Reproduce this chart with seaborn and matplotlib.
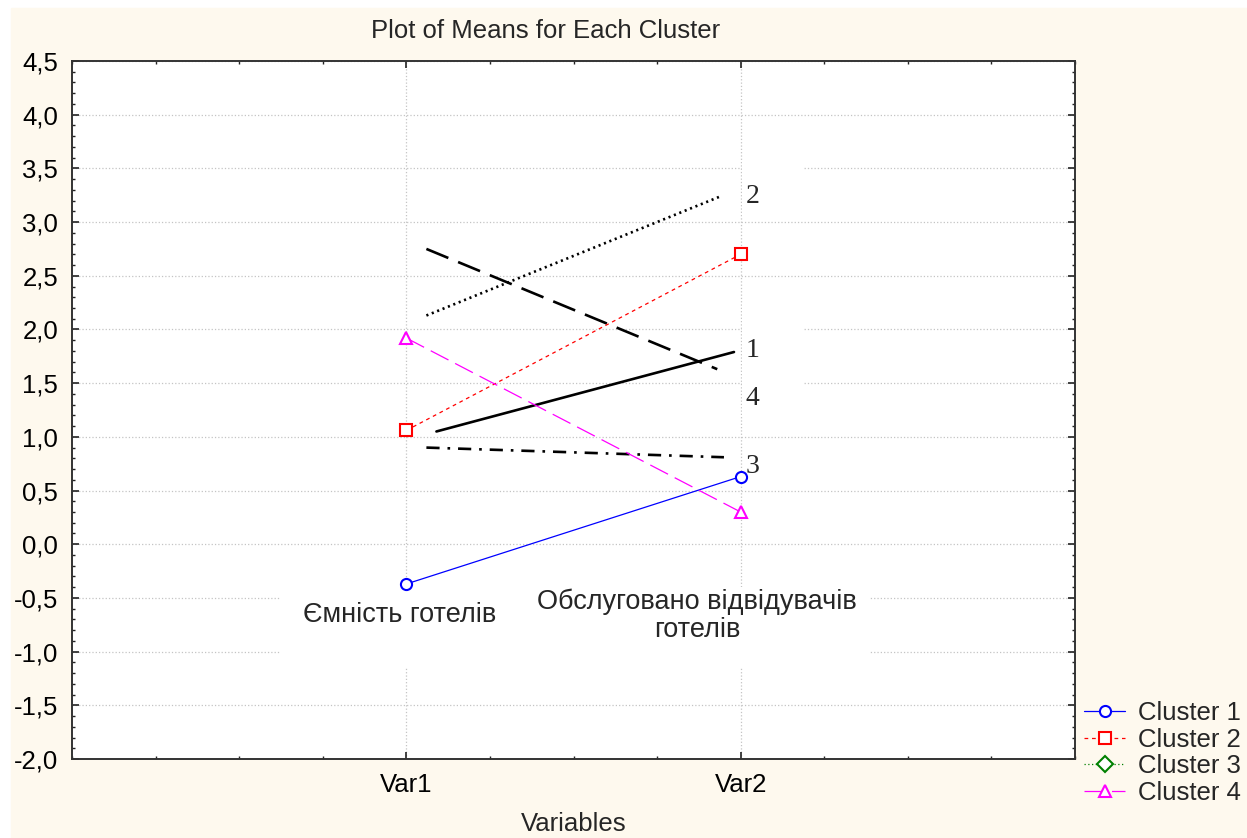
import numpy as np
import matplotlib
matplotlib.use("Agg")
import matplotlib.pyplot as plt
from matplotlib.patches import Rectangle
from matplotlib.lines import Line2D
from matplotlib.ticker import MultipleLocator, FixedLocator, FuncFormatter
import seaborn as sns

variables = ["Var1", "Var2"]
var_names = ["Ємність готелів", "Обслуговано відвідувачів\nготелів"]
clusters = ["Cluster 1", "Cluster 2", "Cluster 3", "Cluster 4"]
cluster1 = [-0.37, 0.63]
cluster2 = [1.06, 2.70]
cluster3 = [np.nan, np.nan]   # not visible on the chart
cluster4 = [1.92, 0.30]

# black lines drawn over the chart by hand, with their numbers
overlay_labels = ["1", "2", "3", "4"]
overlay_x = [[1.09, 1.98], [1.06, 1.94], [1.06, 1.95], [1.06, 1.93]]
overlay_y = [[1.05, 1.79], [2.13, 3.24], [0.90, 0.81], [2.75, 1.63]]
label_y = [1.80, 3.24, 0.72, 1.36]

sns.set_style("ticks")
plt.rcParams['font.family'] = ['Liberation Sans', 'DejaVu Sans']
plt.rcParams['font.size'] = 18.5

cream = '#fef9ee'
colors = ['#0000ff', '#ff0000', '#008000', '#ff00ff']
markers = ['o', 's', 'D', '^']
line_styles = ['-', (0, (3, 3)), (0, (1, 2)), (0, (16, 6))]
overlay_styles = ['-', (0, (0.8, 1.4)), (0, (5, 3, 1, 3)), (0, (9, 4))]

fig = plt.figure(figsize=(12.47, 8.38), dpi=100, facecolor='white')
fig.patches.append(Rectangle((11 / 1247, 0), 1 - 11 / 1247, 830 / 838,
                             transform=fig.transFigure, color=cream, zorder=-10))
ax = fig.add_axes([72 / 1247, 79 / 838, 1003 / 1247, 698 / 838])
ax.set_facecolor('white')

xpos = np.arange(1, len(variables) + 1)
series = [cluster1, cluster2, cluster3, cluster4]
handles = []
for name, vals, c, m, ls in zip(clusters, series, colors, markers, line_styles):
    kw = dict(color=c, marker=m, markersize=8, markerfacecolor='white',
              markeredgecolor=c, markeredgewidth=1.5, linestyle=ls, lw=0.9)
    if not np.all(np.isnan(vals)):
        sns.lineplot(x=xpos, y=vals, ax=ax, legend=False, zorder=4, **kw)
    handles.append(Line2D([], [], **kw))

for xs, ys, st in zip(overlay_x, overlay_y, overlay_styles):
    sns.lineplot(x=xs, y=ys, ax=ax, color='black', lw=1.9, linestyle=st, zorder=3)

# white patches that hide the grid under the pasted text
ax.add_patch(Rectangle((0.626, -1.14), 1.757, 0.74, facecolor='white', edgecolor='none', zorder=1))
ax.add_patch(Rectangle((2.005, 3.05), 0.18, 0.53, facecolor='white', edgecolor='none', zorder=1))
ax.add_patch(Rectangle((2.005, 1.2), 0.18, 1.05, facecolor='white', edgecolor='none', zorder=1))

for lab, yv in zip(overlay_labels, label_y):
    ax.text(2.015, yv, lab, ha='left', va='center', fontsize=20,
            family=['Liberation Serif', 'DejaVu Serif'], zorder=5)

ax.text(0.98, -0.66, var_names[0], ha='center', va='center', fontsize=19.5, zorder=5)
ax.text(1.87, -0.67, var_names[1], ha='center', va='center', fontsize=19.5,
        linespacing=1.1, zorder=5)

ax.set_xlim(0, 3)
ax.set_ylim(-2, 4.5)
ax.xaxis.set_major_locator(FixedLocator(xpos))
ax.set_xticklabels(variables)
ax.xaxis.set_minor_locator(MultipleLocator(0.25))
ax.yaxis.set_major_locator(MultipleLocator(0.5))
ax.yaxis.set_minor_locator(MultipleLocator(0.1))
ax.yaxis.set_major_formatter(FuncFormatter(lambda v, p: f"{v:.1f}".replace('.', ',')))
ax.tick_params(which='both', direction='in', top=True, right=True, colors='#222222',
               labelcolor='black', labelsize=18.5)
ax.tick_params(which='major', length=5, width=1.2, pad=10)
ax.tick_params(which='minor', length=2.5, width=1)
ax.set_axisbelow(True)
ax.grid(which='major', color='#c4c4c4', linestyle=':', linewidth=0.9)
for sp in ax.spines.values():
    sp.set_visible(True)
    sp.set_color('#333333')
    sp.set_linewidth(1.4)

ax.set_xlabel("Variables", fontsize=18.5, labelpad=11)
ax.set_ylabel("")
fig.text(546 / 1247, 1 - 31 / 838, "Plot of Means for Each Cluster",
         ha='center', va='center', fontsize=18.5)

fig.legend(handles, clusters, loc='upper left', bbox_to_anchor=(1084 / 1247, 1 - 701 / 838),
           frameon=False, fontsize=18.5, handlelength=1.6, handletextpad=0.5,
           labelspacing=0.1, borderpad=0, borderaxespad=0)

fig.savefig("out.png", dpi=100)
plt.close(fig)
